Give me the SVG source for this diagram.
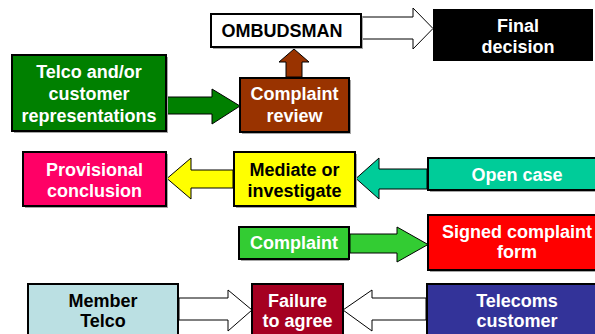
<svg xmlns="http://www.w3.org/2000/svg" width="595" height="334" viewBox="0 0 595 334">
<style>
  .box { stroke: #000; stroke-width: 2; }
  .shadow { fill: #a6a6a6; }
  .arrow { stroke: #000; stroke-width: 1; stroke-linejoin: miter; }
  text { font-family: "Liberation Sans", Arial, sans-serif; font-weight: bold; font-size: 18px; text-anchor: middle; }
  .w { fill: #fff; }
  .k { fill: #000; }
</style>
<rect width="595" height="334" fill="#fff"/>

<g id="connectors">
  <polygon class="arrow" fill="#fff" points="362,17 413,17 413,8 433,28.5 413,49 413,39 362,39"/>
  <polygon class="arrow" fill="#008000" points="167,97 212,97 212,89 240,106 212,124 212,114 167,114"/>
  <polygon class="arrow" fill="#993300" points="286,77 286,62 279,62 294,49 309,62 302,62 302,77"/>
  <polygon class="arrow" fill="#ffff00" points="233,170 191,170 191,158 167,178.5 191,199 191,188 233,188"/>
  <polygon class="arrow" fill="#00cc99" points="427,169 379,169 379,158 356,178.5 379,199 379,189 427,189"/>
  <polygon class="arrow" fill="#33cc33" points="350,234 397,234 397,227 428,244.5 397,262 397,253 350,253"/>
  <polygon class="arrow" fill="#fff" points="179,298 228,298 228,290 252,310 228,331 228,320 179,320"/>
  <polygon class="arrow" fill="#fff" points="426,298 372,298 372,290 343,310 372,331 372,320 426,320"/>
</g>

<g id="ombudsman">
  <rect class="shadow" x="213" y="16" width="150" height="33"/>
  <rect class="box" x="211" y="14" width="150" height="33" fill="#fff"/>
  <text class="k" x="282" y="37">OMBUDSMAN</text>
</g>

<g id="final-decision">
  <rect x="433" y="9" width="160" height="52" fill="#000"/>
  <text class="w" x="518" y="32">Final</text>
  <text class="w" x="518" y="53">decision</text>
</g>

<g id="telco-representations">
  <rect class="shadow" x="14" y="57" width="154" height="76"/>
  <rect class="box" x="12" y="55" width="154" height="76" fill="#008000"/>
  <text class="w" x="89" y="78">Telco and/or</text>
  <text class="w" x="89" y="100">customer</text>
  <text class="w" x="89" y="122">representations</text>
</g>

<g id="complaint-review">
  <rect class="shadow" x="242" y="80" width="109" height="54"/>
  <rect class="box" x="240" y="78" width="109" height="54" fill="#993300"/>
  <text class="w" x="294.5" y="100">Complaint</text>
  <text class="w" x="294.5" y="122">review</text>
</g>

<g id="provisional-conclusion">
  <rect class="shadow" x="25" y="154" width="143" height="54"/>
  <rect class="box" x="23" y="152" width="143" height="54" fill="#ff0066"/>
  <text class="w" x="94.5" y="176">Provisional</text>
  <text class="w" x="94.5" y="197">conclusion</text>
</g>

<g id="mediate-investigate">
  <rect class="shadow" x="236" y="154" width="121" height="54"/>
  <rect class="box" x="234" y="152" width="121" height="54" fill="#ffff00"/>
  <text class="k" x="294.5" y="176">Mediate or</text>
  <text class="k" x="294.5" y="197">investigate</text>
</g>

<g id="open-case">
  <rect class="shadow" x="430" y="160" width="180" height="32"/>
  <rect class="box" x="428" y="158" width="180" height="32" fill="#00cc99"/>
  <text class="w" x="517" y="181">Open case</text>
</g>

<g id="complaint">
  <rect class="shadow" x="241" y="229" width="108" height="32"/>
  <rect class="box" x="239" y="227" width="110" height="32" fill="#33cc33"/>
  <text class="w" x="294" y="249">Complaint</text>
</g>

<g id="signed-complaint-form">
  <rect class="shadow" x="430" y="217" width="180" height="55"/>
  <rect class="box" x="428" y="215" width="180" height="55" fill="#ff0000"/>
  <text class="w" x="517" y="238">Signed complaint</text>
  <text class="w" x="517" y="258">form</text>
</g>

<g id="member-telco">
  <rect class="box" x="28" y="284" width="150" height="60" fill="#bbe0e3"/>
  <text class="k" x="103" y="307">Member</text>
  <text class="k" x="103" y="327">Telco</text>
</g>

<g id="failure-to-agree">
  <rect class="box" x="252" y="284" width="91" height="60" fill="#a50021"/>
  <text class="w" x="297.5" y="307">Failure</text>
  <text class="w" x="297.5" y="327">to agree</text>
</g>

<g id="telecoms-customer">
  <rect class="box" x="427" y="284" width="180" height="60" fill="#333399"/>
  <text class="w" x="517" y="307">Telecoms</text>
  <text class="w" x="517" y="327">customer</text>
</g>
</svg>
